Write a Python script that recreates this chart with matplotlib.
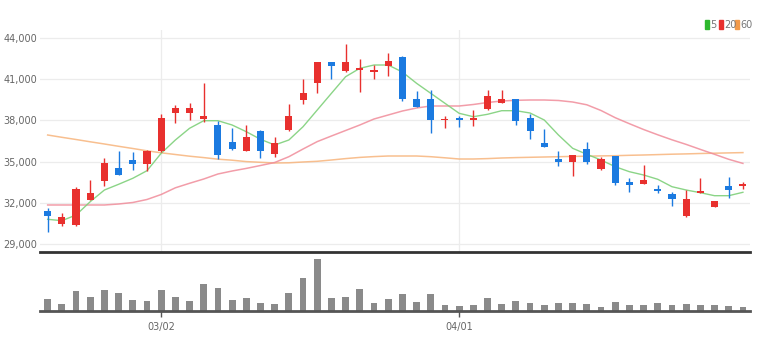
import pandas as pd
import matplotlib.pyplot as plt
from matplotlib.patches import Rectangle
import numpy as np

# trading days (KRX 2022, holidays 03/01 and 03/09 removed)
dates = pd.bdate_range('2022-02-17', '2022-04-29')
dates = dates[~dates.isin(pd.to_datetime(['2022-03-01', '2022-03-09']))]
date_labels = [d.strftime('%m/%d') for d in dates]
tick_dates = ['03/02', '04/01']

# daily prices
open_p = [31400, 30450, 30400, 32200, 33600, 34550, 35150, 34850, 35750, 38550,
          38550, 38100, 37650, 36450, 35750, 37250, 35550, 37300, 39500, 40700,
          42250, 41600, 41650, 41500, 42000, 42650, 39550, 39550, 38000, 38150,
          38050, 38850, 39250, 39550, 38150, 36350, 35200, 34950, 35900, 34450,
          35400, 33500, 33400, 33050, 32650, 31050, 32700, 31700, 33250, 33250]
high_p = [31650, 31300, 33150, 33700, 35250, 35750, 35700, 35850, 38500, 39150,
          39250, 40700, 37950, 37450, 37650, 37300, 36800, 39200, 41050, 42250,
          42250, 43550, 42500, 42050, 42900, 42700, 40150, 40200, 38350, 38350,
          38750, 40250, 40250, 39600, 38500, 37350, 35800, 35500, 36450, 35350,
          35400, 33850, 34750, 33300, 32800, 32950, 33800, 32150, 33900, 33550]
low_p = [29900, 30300, 30350, 32200, 33200, 34050, 34400, 34350, 35700, 37850,
         38000, 37900, 35200, 35850, 35750, 35300, 35350, 37250, 39200, 40000,
         41000, 41500, 40100, 41000, 41250, 39400, 38950, 37100, 37450, 37550,
         37600, 38750, 39250, 37650, 36650, 36050, 34700, 33950, 34850, 34400,
         33300, 32800, 33400, 32700, 31800, 30950, 32700, 31700, 32350, 33050]
close_p = [31050, 30950, 33050, 32750, 34900, 34050, 34850, 35800, 38200, 38900,
           38900, 38300, 35500, 35950, 36800, 35800, 36350, 38300, 40000, 42250,
           41950, 42250, 41800, 41650, 42300, 39600, 39000, 38000, 38100, 38000,
           38200, 39800, 39600, 37950, 37200, 36050, 35000, 35500, 34950, 35200,
           33450, 33300, 33650, 32900, 32300, 32300, 32850, 32150, 32950, 33350]

# moving averages as shown on the chart
ma5 = [30815, 30713, 31127, 32095, 32945, 33360, 33796, 34349, 35615, 36582,
       37433, 37985, 37985, 37673, 37185, 36633, 36218, 36582, 37549, 38764,
       39978, 41185, 41796, 42036, 42036, 41527, 40705, 39978, 39251, 38524,
       38276, 38451, 38713, 38713, 38545, 38036, 36945, 35978, 35542, 35127,
       34640, 34276, 34036, 33724, 33185, 32945, 32749, 32531, 32531, 32778]
ma20 = [31855, 31855, 31855, 31855, 31855, 31927, 32036, 32255, 32618, 33105,
        33433, 33745, 34109, 34327, 34516, 34727, 34945, 35367, 35927, 36465,
        36873, 37273, 37673, 38109, 38400, 38691, 38909, 39055, 39055, 39055,
        39164, 39309, 39418, 39469, 39491, 39491, 39455, 39345, 39142, 38727,
        38204, 37767, 37345, 36960, 36596, 36262, 35898, 35542, 35178, 34880]
ma60 = [36945, 36778, 36618, 36451, 36291, 36124, 35964, 35796, 35651, 35527,
        35404, 35302, 35186, 35113, 35011, 34960, 34909, 34924, 34982, 35033,
        35127, 35229, 35316, 35375, 35418, 35418, 35418, 35367, 35287, 35200,
        35200, 35229, 35273, 35302, 35324, 35345, 35367, 35389, 35404, 35425,
        35440, 35469, 35491, 35520, 35549, 35571, 35600, 35622, 35644, 35665]

# volume (thousand shares)
volume = [246, 146, 400, 274, 426, 354, 214, 194, 426, 274,
          194, 546, 466, 226, 254, 160, 146, 366, 654, 1046,
          254, 286, 434, 160, 236, 346, 180, 334, 126, 106,
          126, 254, 140, 206, 160, 114, 160, 160, 146, 80,
          186, 126, 126, 160, 126, 146, 120, 120, 100, 80]

price_ticks = [29000, 32000, 35000, 38000, 41000, 44000]

up_color = '#e8302e'
down_color = '#1b7ae0'
label_font = ['Liberation Sans Narrow', 'DejaVu Sans']

x = np.arange(len(close_p))
o = np.array(open_p)
c = np.array(close_p)
colors = np.where(c >= o, up_color, down_color)

fig = plt.figure(figsize=(7.66, 3.5), dpi=100)
ax = fig.add_axes([40 / 766, 98 / 350, 710 / 766, 222 / 350])
ax_v = fig.add_axes([40 / 766, 39 / 350, 710 / 766, 55 / 350])

# price panel
ax.set_xlim(-0.54, 49.5)
ax.set_ylim(28436, 44582)
ax.set_yticks(price_ticks)
ax.set_yticklabels(['{:,}'.format(t) for t in price_ticks], family=label_font,
                   fontsize=7, color='#666666')
ax.tick_params(axis='y', length=0, pad=2)
ax.set_xticks([date_labels.index(d) for d in tick_dates])
ax.tick_params(axis='x', length=0, labelbottom=False)
ax.grid(True, color='#ececec', linewidth=0.9)
ax.set_axisbelow(True)
for side in ['top', 'right', 'left']:
    ax.spines[side].set_visible(False)
ax.spines['bottom'].set_color('#333333')
ax.spines['bottom'].set_linewidth(2)

# moving average lines
ax.plot(x, ma60, color='#f7b47c', linewidth=1.1, alpha=0.85, zorder=2)
ax.plot(x, ma20, color='#f08c9a', linewidth=1.1, alpha=0.85, zorder=2)
ax.plot(x, ma5, color='#7fd07a', linewidth=1.0, alpha=0.9, zorder=2)

# candles
ax.vlines(x, low_p, high_p, colors=colors, linewidth=1, zorder=3)
body = np.maximum(np.abs(c - o), 70)
ax.bar(x, body, bottom=np.minimum(o, c), width=0.5, color=colors, zorder=4)

# volume panel
ax_v.bar(x, volume, width=0.48, color='#8a8a8a')
ax_v.set_xlim(-0.54, 49.5)
ax_v.set_ylim(0, 1100)
ax_v.set_yticks([])
ax_v.set_xticks([date_labels.index(d) for d in tick_dates])
ax_v.set_xticklabels(tick_dates, family=label_font, fontsize=7, color='#666666')
ax_v.tick_params(axis='x', length=4, width=1, color='#555555', pad=4)
for side in ['top', 'right', 'left']:
    ax_v.spines[side].set_visible(False)
ax_v.spines['bottom'].set_color('#555555')
ax_v.spines['bottom'].set_linewidth(2)

# legend at top right
legend_items = [('5', '#2eb82e', 705), ('20', '#e8302e', 719), ('60', '#f29a4a', 735)]
for text, col, px in legend_items:
    fig.patches.append(Rectangle((px / 766, 1 - 29 / 350), 4 / 766, 9 / 350,
                                 transform=fig.transFigure, color=col))
    fig.text((px + 5.5) / 766, 1 - 24.5 / 350, text, family=label_font, fontsize=7,
             color='#777777', va='center', ha='left')

plt.savefig('out.png', dpi=100)
